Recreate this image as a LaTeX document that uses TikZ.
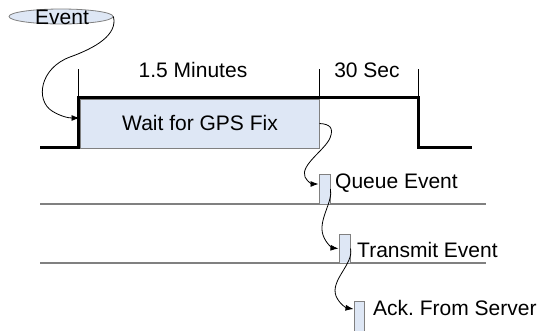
\documentclass[tikz,border=0pt]{standalone}
\usepackage{fontspec}
\setmainfont{Liberation Sans}
\usetikzlibrary{arrows.meta,shapes.geometric}
\definecolor{boxfill}{RGB}{222,231,245}
\definecolor{boxline}{RGB}{128,128,128}
\tikzset{
  lbl/.style={font=\fontsize{21}{24}\selectfont, inner sep=0pt},
  bar/.style={draw=boxline, fill=boxfill, line width=1pt, inner sep=0pt},
  sig/.style={line width=3pt, line join=miter},
  tick/.style={line width=0.8pt},
  track/.style={draw=boxline, line width=1.3pt},
  flow/.style={line width=0.8pt, -{Latex[length=8pt,width=6pt]}},
}
\begin{document}
\begin{tikzpicture}[x=1pt,y=-1pt]
\useasboundingbox (0,0) rectangle (540,330);
% signal
\draw[sig] (40,147) -- (78,147) -- (78,97) -- (418,97) -- (418,147) -- (472,147);
% ticks
\draw[tick] (78,69) -- (78,97);
\draw[tick] (319,69) -- (319,97);
\draw[tick] (418,69) -- (418,97);
\node[lbl, anchor=base] (t1) at (193,77) {1.5 Minutes};
\node[lbl, anchor=base] (t2) at (367,77) {30 Sec};
% tracks
\draw[track] (40,204) -- (486,204);
\draw[track] (40,263) -- (486,263);
% wait box
\node[bar, minimum width=239pt, minimum height=49pt] (wait) at (199.5,123.5) {};
\node[lbl, anchor=base] (waitt) at (200,130.5) {Wait for GPS Fix};
% event ellipse
\node[ellipse, draw=boxline, fill=boxfill, line width=0.8pt, minimum width=104pt, minimum height=15pt, inner sep=0pt] (ev) at (61,16.5) {};
\node[lbl, anchor=base] (evt) at (62,24) {Event};
% small bars
\node[bar, minimum width=11pt, minimum height=30pt] (queue) at (324.5,189) {};
\node[bar, minimum width=11pt, minimum height=29pt] (trans) at (344.5,248.5) {};
\node[bar, minimum width=10pt, minimum height=32pt] (ack) at (359,317) {};
\node[lbl, anchor=base west] (ql) at (335,188) {Queue Event};
\node[lbl, anchor=base west] (tl) at (357,257) {Transmit Event};
\node[lbl, anchor=base west] (al) at (373,315) {Ack.\ From Server};
% flows
\draw[flow] (ev.east) .. controls (118,35) and (95,48) .. (70,57)
   .. controls (40,68) and (35,100) .. (52,111)
   .. controls (60,116) and (68,118) .. ([yshift=5.5pt]wait.west);
\draw[flow] (wait.east) .. controls (330,124) and (334,128) .. (330,138)
   .. controls (325,150) and (300,165) .. (305,177)
   .. controls (308,183) and (313,184) .. ([yshift=5pt]queue.west);
\draw[flow] (queue.east) .. controls (333,202) and (318,220) .. (323,235)
   .. controls (326,244) and (333,248) .. (trans.west);
\draw[flow] (trans.east) .. controls (354,264) and (330,280) .. (336,296)
   .. controls (340,305) and (347,308) .. ([yshift=8pt]ack.west);
\end{tikzpicture}
\end{document}
